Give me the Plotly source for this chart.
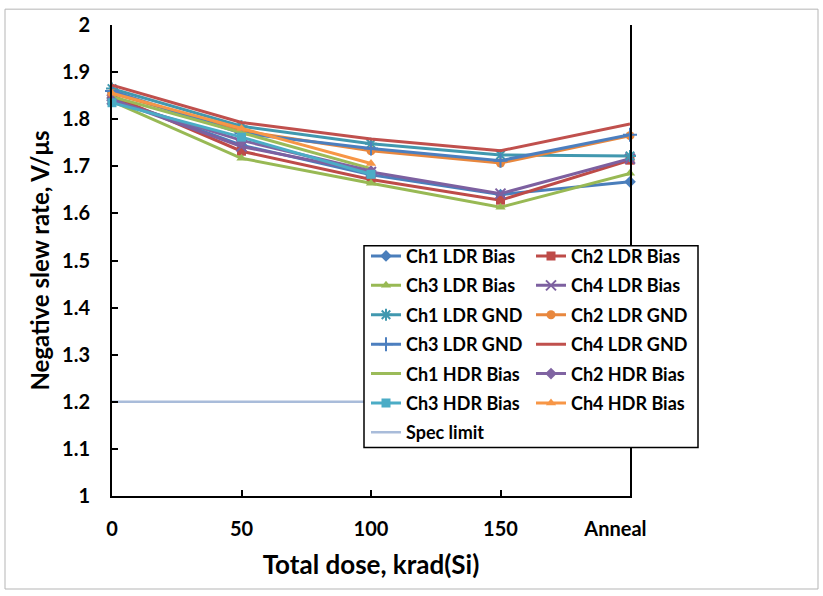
import plotly.graph_objects as go

categories = ["0", "50", "100", "150", "Anneal\u00a0\u00a0\u00a0\u00a0\u00a0\u00a0"]
xpos = [0, 1, 2, 3, 4]

ch1_ldr_bias = [1.845, 1.745, 1.682, 1.640, 1.667]
ch2_ldr_bias = [1.850, 1.732, 1.672, 1.628, 1.713]
ch3_ldr_bias = [1.838, 1.717, 1.664, 1.613, 1.685]
ch4_ldr_bias = [1.842, 1.742, 1.688, 1.642, 1.716]
ch1_ldr_gnd = [1.865, 1.785, 1.748, 1.724, 1.722]
ch2_ldr_gnd = [1.855, 1.775, 1.733, 1.707, 1.765]
ch3_ldr_gnd = [1.860, 1.770, 1.738, 1.712, 1.767]
ch4_ldr_gnd = [1.872, 1.793, 1.758, 1.733, 1.790]
ch1_hdr_bias = [1.848, 1.772, 1.695]
ch2_hdr_bias = [1.840, 1.755, 1.690]
ch3_hdr_bias = [1.835, 1.762, 1.683]
ch4_hdr_bias = [1.855, 1.780, 1.706]
spec_limit = [1.2, 1.2, 1.2, 1.2, 1.2]

FONT = "Lato"

series = [
    ("Ch1 LDR Bias", ch1_ldr_bias, "#4A7EBB", "diamond", "legend"),
    ("Ch2 LDR Bias", ch2_ldr_bias, "#BE4B48", "square", "legend2"),
    ("Ch3 LDR Bias", ch3_ldr_bias, "#98B954", "triangle-up", "legend"),
    ("Ch4 LDR Bias", ch4_ldr_bias, "#7D60A0", "x-thin-open", "legend2"),
    ("Ch1 LDR GND", ch1_ldr_gnd, "#4198AF", "asterisk-open", "legend"),
    ("Ch2 LDR GND", ch2_ldr_gnd, "#E8873E", "circle", "legend2"),
    ("Ch3 LDR GND", ch3_ldr_gnd, "#4C7FBF", "cross-thin-open", "legend"),
    ("Ch4 LDR GND", ch4_ldr_gnd, "#C0504D", None, "legend2"),
    ("Ch1 HDR Bias", ch1_hdr_bias, "#9BBB59", None, "legend"),
    ("Ch2 HDR Bias", ch2_hdr_bias, "#8064A2", "diamond", "legend2"),
    ("Ch3 HDR Bias", ch3_hdr_bias, "#4BACC6", "square", "legend"),
    ("Ch4 HDR Bias", ch4_hdr_bias, "#F79646", "triangle-up", "legend2"),
]

fig = go.Figure()
for i, (name, vals, color, sym, leg) in enumerate(series):
    kw = {}
    if sym is None:
        mode = "lines"
    else:
        mode = "lines+markers"
        open_sym = sym.endswith("open")
        kw["marker"] = dict(symbol=sym, size=9 if not open_sym else 10, color=color,
                            line=dict(color=color, width=2 if open_sym else 0))
    fig.add_trace(go.Scatter(
        x=xpos[:len(vals)], y=vals, name=name, mode=mode,
        line=dict(color=color, width=3), legend=leg, legendgroup=name,
        cliponaxis=False, **kw))

fig.add_trace(go.Scatter(
    x=xpos, y=spec_limit, name="Spec limit", mode="lines",
    line=dict(color="#A9BCDA", width=2.5), legend="legend", legendgroup="spec",
    cliponaxis=False))

def px_x(p):
    return (p - 112) / 518.0

def px_y(p):
    return (496 - p) / 476.0

legend_common = dict(
    font=dict(family=FONT, size=18, color="black", weight="bold"),
    bgcolor="rgba(0,0,0,0)", borderwidth=0,
    traceorder="grouped", tracegroupgap=3,
    xanchor="left", yanchor="top", itemwidth=30,
)

fig.update_layout(
    width=823, height=596,
    margin=dict(l=112, r=193, t=20, b=100),
    paper_bgcolor="white", plot_bgcolor="white",
    font=dict(family=FONT, color="black"),
    showlegend=True,
    legend=dict(x=px_x(366), y=px_y(235), **legend_common),
    legend2=dict(x=px_x(531), y=px_y(235), **legend_common),
    xaxis=dict(
        range=[0, 4], tickvals=xpos, ticktext=categories,
        showgrid=False, zeroline=False,
        showline=True, linecolor="black", linewidth=2,
        ticks="inside", ticklen=6, tickwidth=1.5, tickcolor="black",
        tickfont=dict(family=FONT, size=20, color="black", weight="bold"),
        ticklabelstandoff=14,
        title=dict(text="Total dose, krad(Si)",
                   font=dict(family=FONT, size=26, color="black", weight="bold"),
                   standoff=17),
    ),
    yaxis=dict(
        range=[1, 2], dtick=0.1, tick0=1,
        showgrid=False, zeroline=False,
        showline=True, linecolor="black", linewidth=2, mirror=True,
        ticks="inside", ticklen=6, tickwidth=1.5, tickcolor="black",
        tickfont=dict(family=FONT, size=20, color="black", weight="bold"),
        ticklabelstandoff=16,
        title=dict(text="Negative slew rate, V/\u03bcs",
                   font=dict(family=FONT, size=24, color="black", weight="bold"),
                   standoff=6),
    ),
    shapes=[
        dict(type="rect", xref="paper", yref="paper",
             x0=px_x(364), x1=px_x(698), y0=px_y(447), y1=px_y(243),
             line=dict(color="black", width=1.5), fillcolor="white", layer="above"),
        dict(type="rect", xref="paper", yref="paper",
             x0=px_x(5), x1=px_x(818), y0=px_y(590), y1=px_y(4),
             line=dict(color="#B5B5B5", width=1), fillcolor="rgba(0,0,0,0)", layer="below"),
    ],
)

fig.write_html("out.html")
